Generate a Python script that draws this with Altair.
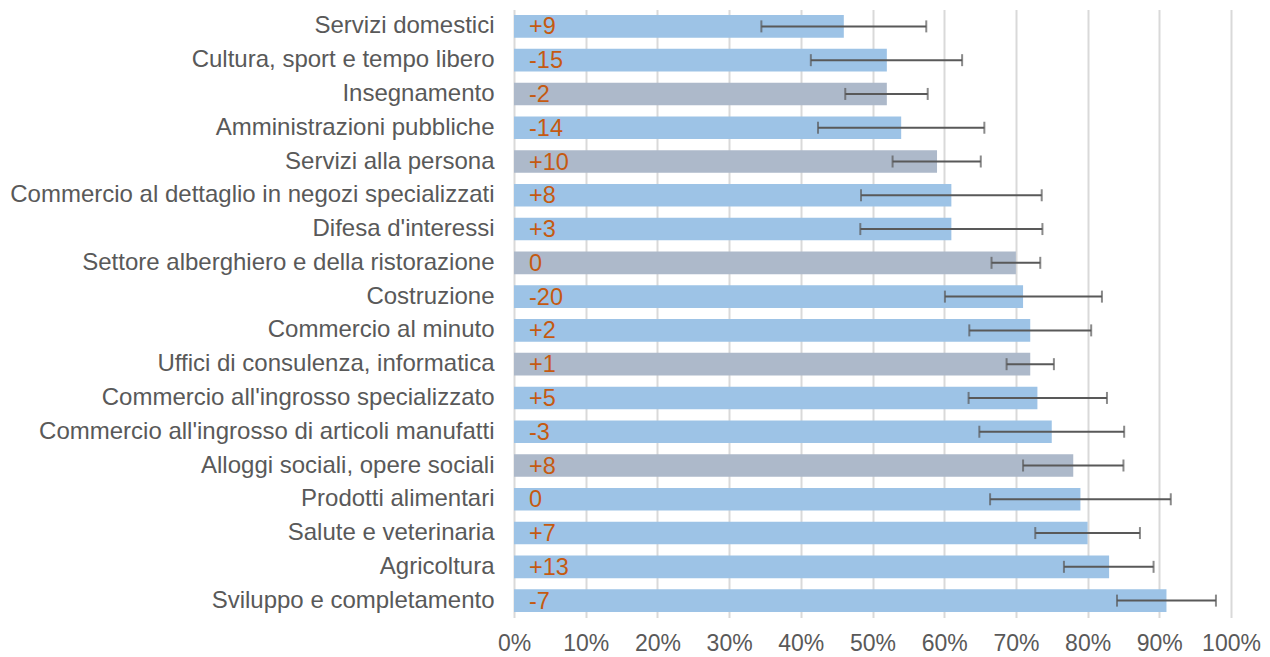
import altair as alt
import pandas as pd

categories = [
    "Servizi domestici",
    "Cultura, sport e tempo libero",
    "Insegnamento",
    "Amministrazioni pubbliche",
    "Servizi alla persona",
    "Commercio al dettaglio in negozi specializzati",
    "Difesa d'interessi",
    "Settore alberghiero e della ristorazione",
    "Costruzione",
    "Commercio al minuto",
    "Uffici di consulenza, informatica",
    "Commercio all'ingrosso specializzato",
    "Commercio all'ingrosso di articoli manufatti",
    "Alloggi sociali, opere sociali",
    "Prodotti alimentari",
    "Salute e veterinaria",
    "Agricoltura",
    "Sviluppo e completamento",
]
values = [46, 52, 52, 54, 59, 61, 61, 70, 71, 72, 72, 73, 75, 78, 79, 80, 83, 91]
err_low = [34.5, 41.4, 46.2, 42.4, 52.8, 48.4, 48.3, 66.6, 60.1, 63.5, 68.7, 63.4, 64.9, 71.0, 66.4, 72.7, 76.7, 84.1]
err_high = [57.5, 62.5, 57.7, 65.6, 65.1, 73.6, 73.7, 73.4, 82.0, 80.5, 75.3, 82.7, 85.1, 85.0, 91.6, 87.3, 89.2, 97.9]
changes = ["+9", "-15", "-2", "-14", "+10", "+8", "+3", "0", "-20", "+2", "+1", "+5", "-3", "+8", "0", "+7", "+13", "-7"]
groups = ["a", "a", "b", "a", "b", "a", "a", "b", "a", "a", "b", "a", "a", "b", "a", "a", "a", "a"]

df = pd.DataFrame({
    "cat": categories,
    "value": [v / 100 for v in values],
    "lo": [v / 100 for v in err_low],
    "hi": [v / 100 for v in err_high],
    "label": changes,
    "group": groups,
    "base": [0.0] * len(categories),
})

FONT = "Liberation Sans"
GREY = "#595959"

y_enc = alt.Y(
    "cat:N",
    sort=categories,
    title=None,
    scale=alt.Scale(paddingInner=0.33, paddingOuter=0.165),
    axis=alt.Axis(
        labelFont=FONT, labelFontSize=24, labelColor=GREY, labelPadding=20,
        ticks=False, domain=False, grid=False, labelLimit=600,
    ),
)
x_scale = alt.Scale(domain=[0, 1], nice=False)
x_axis = alt.Axis(
    format=".0%", values=[i / 10 for i in range(11)], labelFont=FONT, labelFontSize=23,
    labelColor=GREY, labelPadding=15, ticks=False, domain=False, grid=True,
    gridColor="#D9D9D9", gridWidth=2, title=None, labelFlush=False,
)

bars = alt.Chart(df).mark_bar().encode(
    x=alt.X("value:Q", scale=x_scale, axis=x_axis),
    x2=alt.X2("base:Q"),
    y=y_enc,
    color=alt.Color("group:N", scale=alt.Scale(domain=["a", "b"], range=["#9DC3E6", "#ADB9CA"]), legend=None),
)

rules = alt.Chart(df).mark_rule(color=GREY, strokeWidth=2).encode(
    x=alt.X("lo:Q", scale=x_scale),
    x2="hi:Q",
    y=alt.Y("cat:N", sort=categories),
)

caps_lo = alt.Chart(df).mark_tick(color=GREY, size=12, thickness=2, orient="vertical").encode(
    x=alt.X("lo:Q", scale=x_scale),
    y=alt.Y("cat:N", sort=categories),
)
caps_hi = alt.Chart(df).mark_tick(color=GREY, size=12, thickness=2, orient="vertical").encode(
    x=alt.X("hi:Q", scale=x_scale),
    y=alt.Y("cat:N", sort=categories),
)

texts = alt.Chart(df).mark_text(
    align="left", baseline="middle", dx=15, dy=1, font=FONT, fontSize=23.5, color="#C55A11",
).encode(
    x=alt.X("base:Q", scale=x_scale),
    y=alt.Y("cat:N", sort=categories),
    text="label:N",
)

chart = alt.layer(bars, rules, caps_lo, caps_hi, texts).properties(
    width=717,
    height=608,
    autosize=alt.AutoSizeParams(type="none"),
    padding={"left": 506, "top": 1.5, "right": 30, "bottom": 40},
).configure_view(stroke=None)

chart.save("out.html", embed_options={"renderer": "svg", "actions": False})
